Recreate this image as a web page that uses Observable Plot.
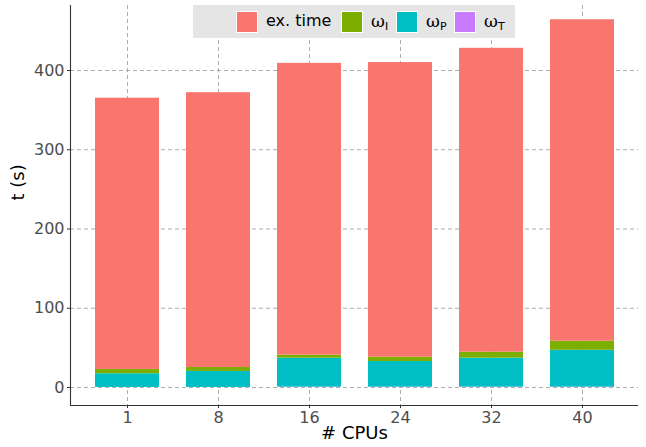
<!DOCTYPE html>
<html>
<head>
<meta charset="utf-8">
<script src="https://cdn.jsdelivr.net/npm/d3@7"></script>
<script src="https://cdn.jsdelivr.net/npm/@observablehq/plot@0.6"></script>
<style>
  body { margin: 0; background: #fff; font-family: "DejaVu Sans", sans-serif; }
  #wrap { position: relative; width: 646px; height: 447px; }
  #legend { position: absolute; left: 193px; top: 5px; width: 322px; height: 33px; background: #e5e5e5;
    font-size: 16px; color: #000; }
  .key { position: absolute; top: 6px; width: 22px; height: 22px; border: 1px solid #fff; box-sizing: border-box; }
  .lab { position: absolute; top: 6px; line-height: 20px; white-space: nowrap; }
  .lab .w { font-family: "DejaVu Serif", serif; font-size: 17px; }
  .lab sub { font-size: 11px; vertical-align: -3px; }
</style>
</head>
<body>
<div id="wrap"></div>
<script>
const cpus = ["1", "8", "16", "24", "32", "40"];
const series = ["ex. time", "ωI", "ωP", "ωT"];
const colors = ["#F8766D", "#7CAE00", "#00BFC4", "#C77CFF"];
const totals = [365, 372, 409, 410, 428, 464];
const omegaI = [5.4, 5.0, 3.8, 5.5, 7.6, 11.4];
const omegaP = [17.3, 20.2, 36.5, 32.3, 36.5, 46.5];
const omegaT = [0.1, 0.1, 0.5, 0.5, 0.5, 0.5];
const yTicks = [0, 100, 200, 300, 400];
const yDomain = [-22.7, 482];

const data = [];
cpus.forEach((c, i) => {
  data.push({cpu: c, series: "ωT", value: omegaT[i]});
  data.push({cpu: c, series: "ωP", value: omegaP[i]});
  data.push({cpu: c, series: "ωI", value: omegaI[i]});
  data.push({cpu: c, series: "ex. time", value: totals[i] - omegaI[i] - omegaP[i] - omegaT[i]});
});

const plot = Plot.plot({
  width: 646,
  height: 447,
  marginLeft: 70,
  marginRight: 8,
  marginTop: 5,
  marginBottom: 42,
  style: {fontFamily: "DejaVu Sans, sans-serif", background: "#fff"},
  x: {domain: cpus, paddingInner: 0.3, paddingOuter: 0.25, label: null},
  y: {domain: yDomain, label: null},
  color: {domain: series, range: colors},
  marks: [
    Plot.gridY(yTicks, {stroke: "#999", strokeOpacity: 1, strokeDasharray: "4,3", strokeWidth: 0.8}),
    Plot.gridX(cpus, {stroke: "#999", strokeOpacity: 1, strokeDasharray: "4,3", strokeWidth: 0.8}),
    Plot.barY(data, {x: "cpu", y: "value", fill: "series", order: ["ωT", "ωP", "ωI", "ex. time"]}),
    Plot.ruleY([yDomain[0]], {stroke: "#333", strokeWidth: 1.1}),
    Plot.frame({anchor: "left", stroke: "#333", strokeWidth: 1.1}),
    Plot.axisY(yTicks, {tickSize: 3, tickPadding: 3, fontSize: 16, fill: "#4d4d4d", stroke: "#333", label: null}),
    Plot.axisX(cpus, {tickSize: 3, tickPadding: 3, fontSize: 16, fill: "#4d4d4d", stroke: "#333", label: null}),
    Plot.text(["# CPUs"], {frameAnchor: "bottom", dy: 33, fontSize: 18, fill: "#000"}),
    Plot.text(["t (s)"], {frameAnchor: "left", dx: -52, dy: -5, rotate: -90, fontSize: 18, fill: "#000"})
  ]
});

const wrap = document.getElementById("wrap");
wrap.appendChild(plot);

const legend = document.createElement("div");
legend.id = "legend";
const keyX = [43, 148, 203, 261];
const labX = [73, 178, 233, 291];
const labels = ["ex. time", "<span class='w'>ω</span><sub>I</sub>", "<span class='w'>ω</span><sub>P</sub>", "<span class='w'>ω</span><sub>T</sub>"];
legend.innerHTML = series.map((s, i) =>
  `<div class="key" style="left:${keyX[i]}px;background:${colors[i]}"></div><div class="lab" style="left:${labX[i]}px">${labels[i]}</div>`).join("");
wrap.appendChild(legend);
</script>
</body>
</html>
